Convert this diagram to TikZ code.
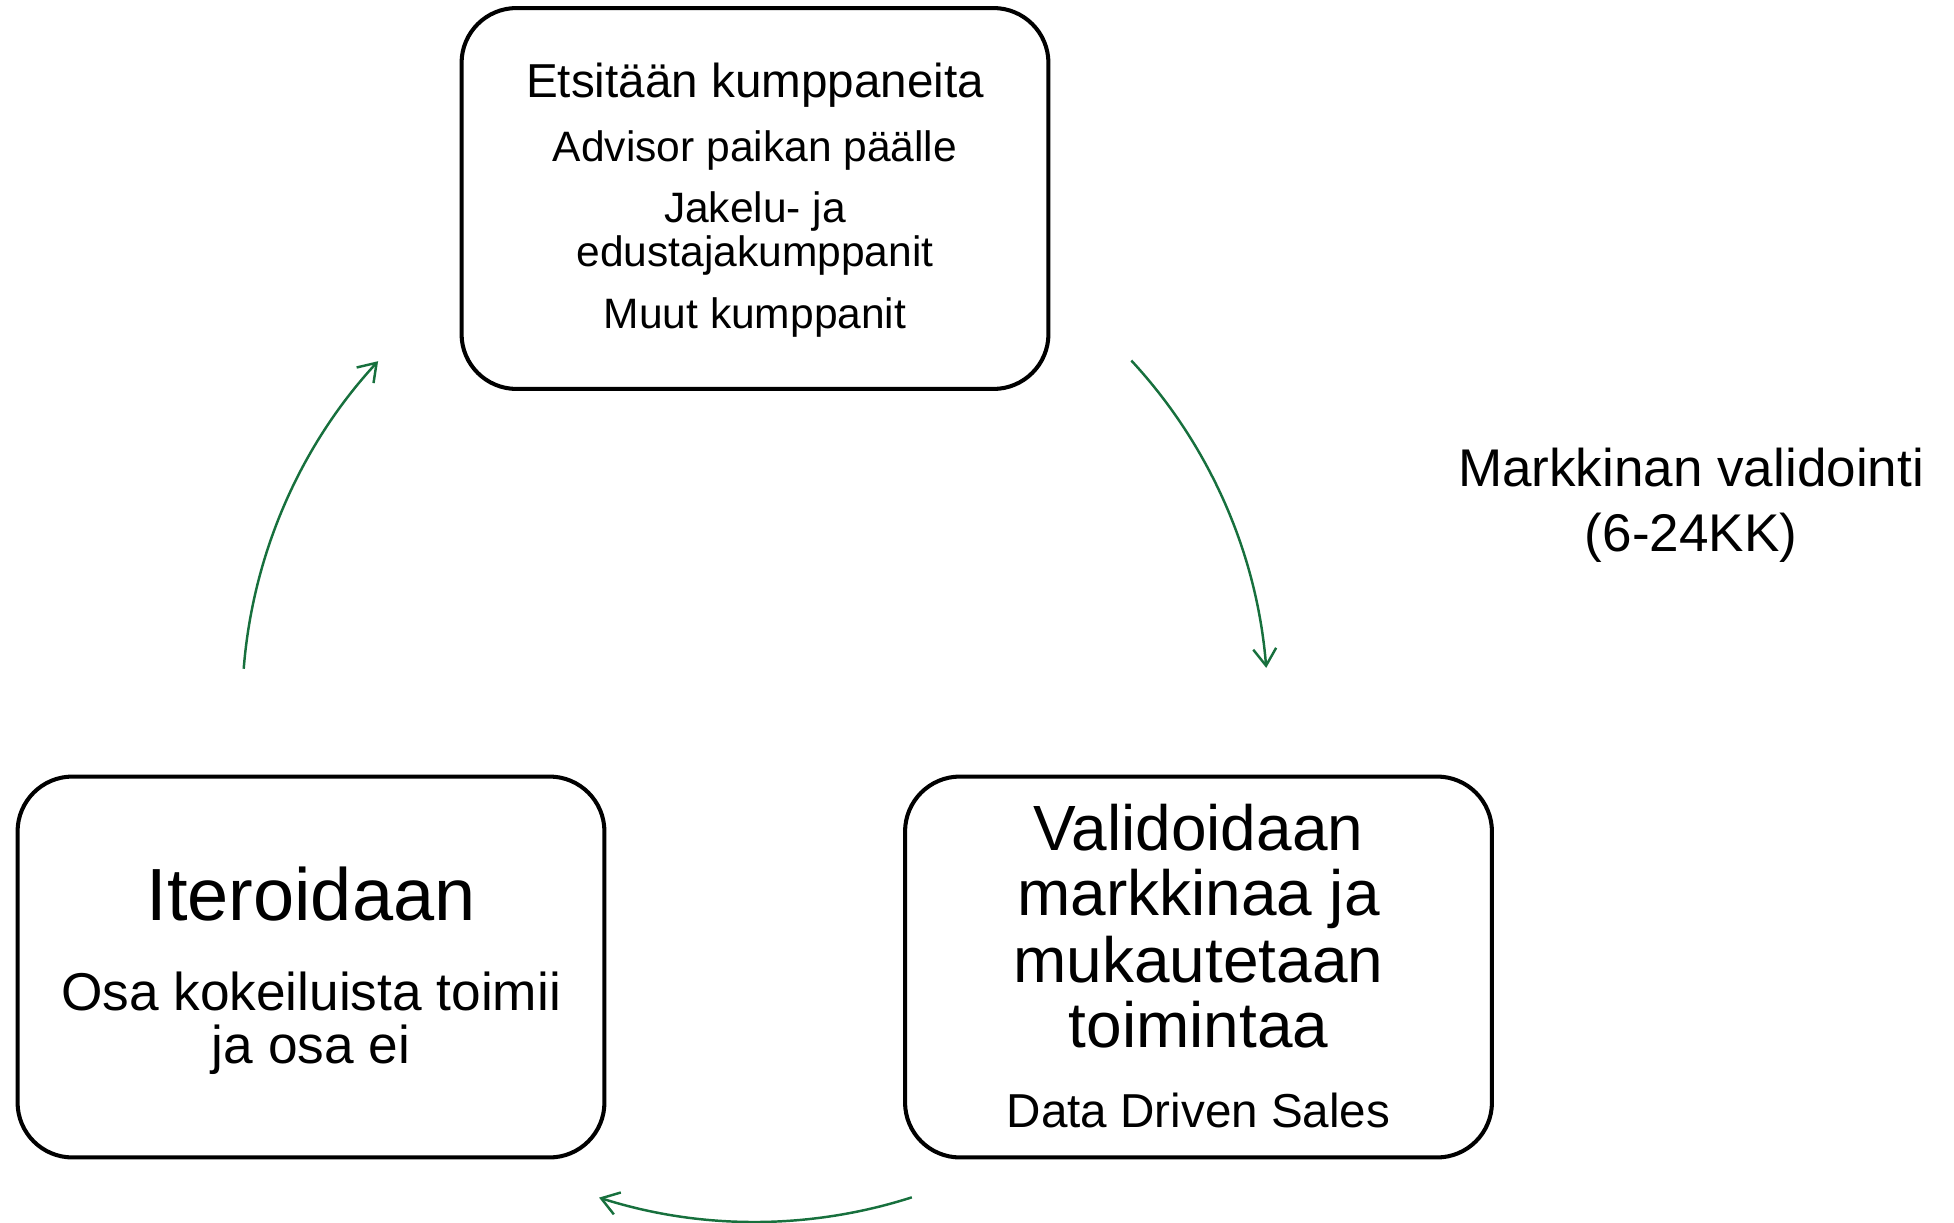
\documentclass[tikz,border=0pt]{standalone}
\usepackage{fontspec}
\setmainfont{Liberation Sans}
\usetikzlibrary{arrows.meta,calc}
\definecolor{cycgreen}{HTML}{17703D}
\newcommand\fsz[1]{\fontsize{#1pt}{#1pt}\selectfont}
\begin{document}
\begin{tikzpicture}[x=0.02cm,y=0.02cm,
  stagebox/.style={draw=black, line width=2.3pt, rounded corners=1.1cm, minimum width=11.74cm, minimum height=7.62cm, inner sep=0pt},
  txt/.style={anchor=base, inner sep=0pt, align=center},
  cyc/.style={draw=cycgreen, line width=1.4pt, -{Straight Barb[length=0.34cm, width=0.46cm]}}]
\useasboundingbox (0,0) rectangle (1954,-1223);
% boxes
\node[stagebox] (top) at (755,-198.5) {};
\node[stagebox] (left) at (311,-967) {};
\node[stagebox] (right) at (1198.5,-967) {};
% top box texts
\node[txt, font=\fsz{27.1}] (t1) at (755,-98) {Etsitään kumppaneita};
\node[txt, font=\fsz{24.2}] (t2) at (755,-162) {Advisor paikan päälle};
\node[txt, font=\fsz{24.2}] (t3) at (755,-223) {Jakelu- ja};
\node[txt, font=\fsz{24.2}] (t4) at (755,-267) {edustajakumppanit};
\node[txt, font=\fsz{24.2}] (t5) at (755,-328) {Muut kumppanit};
% left box texts
\node[txt, font=\fsz{42.1}] (l1) at (311,-920) {Iteroidaan};
\node[txt, font=\fsz{30.3}] (l2) at (311,-1010) {Osa kokeiluista toimii};
\node[txt, font=\fsz{30.3}] (l3) at (311,-1063) {ja osa ei};
% right box texts
\node[txt, font=\fsz{36.4}] (r1) at (1198.5,-850) {Validoidaan};
\node[txt, font=\fsz{36.4}] (r2) at (1198.5,-915) {markkinaa ja};
\node[txt, font=\fsz{36.4}] (r3) at (1198.5,-982) {mukautetaan};
\node[txt, font=\fsz{36.4}] (r4) at (1198.5,-1047) {toimintaa};
\node[txt, font=\fsz{27.1}] (r5) at (1198.5,-1127) {Data Driven Sales};
% side label
\node[txt, font=\fsz{30.2}] (m1) at (1691,-486) {Markkinan validointi};
\node[txt, font=\fsz{30.2}] (m2) at (1691,-551) {(6-24KK)};
% cycle arrows
\coordinate (cc) at (755,-709);
\coordinate (a1s) at ($(cc)+(42.8:10.26cm)$);
\coordinate (a2s) at ($(cc)+(-72.2:10.26cm)$);
\coordinate (a3s) at ($(cc)+(175.5:10.26cm)$);
\draw[cyc] (a1s) arc[start angle=42.8, end angle=4.6, radius=10.26cm];
\draw[cyc] (a2s) arc[start angle=-72.2, end angle=-107.7, radius=10.26cm];
\draw[cyc] (a3s) arc[start angle=175.5, end angle=137.3, radius=10.26cm];
\end{tikzpicture}
\end{document}
